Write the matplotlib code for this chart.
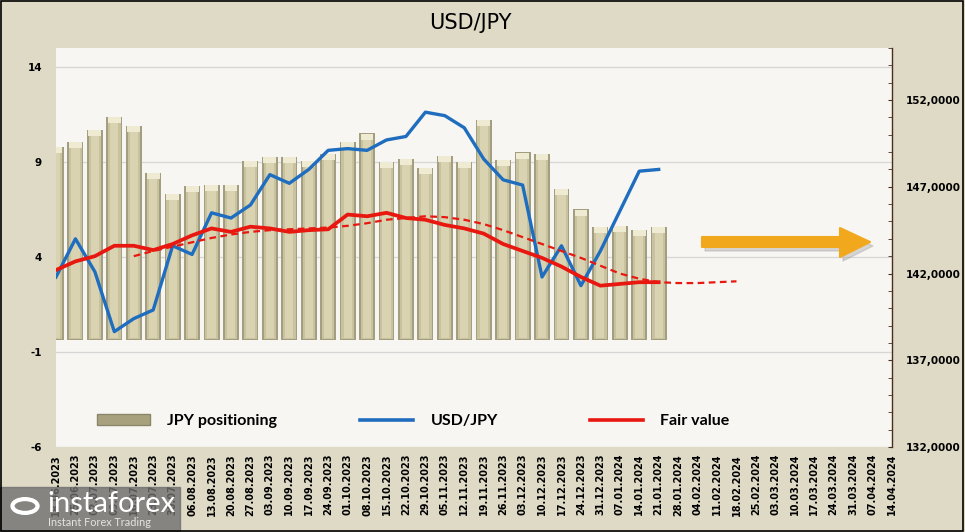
import numpy as np
import pandas as pd
import matplotlib
matplotlib.use('Agg')
from matplotlib import pyplot as plt
from matplotlib.patches import Polygon, Rectangle, Patch, Circle
from matplotlib.lines import Line2D

plt.rcParams['axes.unicode_minus'] = False

# weekly categories, 18.06.2023 .. 14.04.2024
dates = pd.date_range('2023-06-18', periods=44, freq='7D').strftime('%d.%m.%Y').tolist()

# JPY positioning (left axis)
positioning = [9.8, 10.05, 10.7, 11.35, 10.9, 8.4, 7.3, 7.75, 7.8, 7.8,
               9.05, 9.25, 9.25, 9.05, 9.4, 10.05, 10.5, 9.0, 9.15, 8.7,
               9.3, 9.0, 11.2, 9.1, 9.5, 9.4, 7.6, 6.5, 5.6, 5.65, 5.4, 5.6]

# USD/JPY (right axis)
usdjpy = [141.8, 144.0, 142.1, 138.65, 139.4, 139.9, 143.6, 143.1, 145.5, 145.2,
          145.95, 147.7, 147.2, 148.0, 149.1, 149.2, 149.1, 149.7, 149.9, 151.3,
          151.1, 150.4, 148.6, 147.4, 147.1, 141.8, 143.6, 141.3, 143.3, 145.6,
          147.9, 148.0]

# fair value (right axis)
fair = [142.2, 142.7, 143.0, 143.6, 143.6, 143.35, 143.7, 144.2, 144.6, 144.4,
        144.7, 144.6, 144.4, 144.5, 144.55, 145.4, 145.3, 145.5, 145.2, 145.1,
        144.8, 144.6, 144.3, 143.7, 143.3, 142.9, 142.4, 141.8, 141.3, 141.4,
        141.5, 141.5]

# fair value trend (dashed), starts at week index 4
trend_start = 4
trend = [143.0, 143.3, 143.55, 143.8, 144.05, 144.25, 144.4, 144.5, 144.55, 144.6,
         144.65, 144.75, 144.9, 145.1, 145.2, 145.3, 145.25, 145.1, 144.85, 144.5,
         144.1, 143.7, 143.3, 142.9, 142.45, 142.0, 141.7, 141.5, 141.45, 141.45,
         141.5, 141.55]

W, H = 965, 532
BG = '#dedac6'
BLUE = '#1f6dbf'
RED = '#e8170f'

fig = plt.figure(figsize=(W / 100, H / 100), dpi=100, facecolor=BG)
ax = fig.add_axes([56 / W, (H - 447) / H, (892 - 56) / W, (447 - 48) / H])
ax.set_facecolor('#f7f6f2')
ax2 = ax.twinx()

x_all = np.arange(len(dates))
xb = np.arange(len(positioning))
pos = np.array(positioning)
base = -0.35

# bars with a rough bevel look
ax.bar(xb, pos - base, bottom=base, width=0.82, color='#a29e7f', zorder=2)
ax.bar(xb, pos - base - 0.1, bottom=base + 0.05, width=0.64, color='#c9c29e', zorder=3)
ax.bar(xb, pos - base - 0.3, bottom=base + 0.1, width=0.42, color='#d9d3b1', zorder=4)
ax.bar(xb, 0.32, bottom=pos - 0.32, width=0.66, color='#efebd2', zorder=5)

ax2.plot(xb, usdjpy, color=BLUE, lw=2.4, solid_joinstyle='round', zorder=3)
ax2.plot(xb, fair, color=RED, lw=2.7, solid_joinstyle='round', zorder=4)
ax2.plot(np.arange(trend_start, trend_start + len(trend)), trend,
         color=RED, lw=1.6, ls=(0, (3, 2)), zorder=4)

ax.set_xlim(0, len(dates) - 1)
ax.set_ylim(-6, 15)
ax2.set_ylim(132, 155)

ax.set_yticks([-6, -1, 4, 9, 14])
ax.set_axisbelow(True)
ax.grid(axis='y', color='#d6d6d6', lw=0.9, zorder=0)
ax.tick_params(axis='y', length=0, pad=10, labelsize=7.5)
for t in ax.get_yticklabels():
    t.set_fontweight('bold')

ax.set_xticks(x_all)
ax.set_xticklabels(dates, rotation=90, fontsize=7, fontweight='bold')
ax.tick_params(axis='x', length=0, pad=5)

ax2.set_yticks(np.arange(132, 153, 5))
ax2.set_yticks(np.arange(132, 156, 1), minor=True)
ax2.set_yticklabels([f'{v:.4f}'.replace('.', ',') for v in np.arange(132, 153, 5)],
                    fontsize=7.5, fontweight='bold')
ax2.tick_params(axis='y', which='both', direction='in', length=3,
                color='#4a2e20', pad=10)

for s in ax.spines.values():
    s.set_visible(False)
for k in ['top', 'left', 'bottom']:
    ax2.spines[k].set_visible(False)
ax2.spines['right'].set_color('#4a2e20')
ax2.spines['right'].set_linewidth(1)

leg_kw = dict(loc='center left', frameon=False,
              prop=dict(family='Lato', weight='bold', size=11.5),
              handlelength=3.3, handletextpad=1.1, borderpad=0, borderaxespad=0)
leg1 = ax2.legend([Patch(facecolor='#a7a27d', edgecolor='#8a866a'),
                   Line2D([], [], color=BLUE, lw=2.6)],
                  ['JPY positioning', 'USD/JPY'], ncol=2,
                  bbox_to_anchor=(0.049, 0.065), columnspacing=5.2, **leg_kw)
ax2.add_artist(leg1)
ax2.legend([Line2D([], [], color=RED, lw=2.6)], ['Fair value'],
           bbox_to_anchor=(0.639, 0.065), **leg_kw)

fig.text(470 / W, 1 - 23 / H, 'USD/JPY', ha='center', va='center',
         fontsize=15, family='DejaVu Sans')


def px(pts):
    return [(a / W, 1 - b / H) for a, b in pts]


arrow = [(702, 237), (840, 237), (840, 228), (870, 242), (840, 257), (840, 247), (702, 247)]
shadow = [(a + 3, b + 4) for a, b in arrow]
fig.patches.append(Polygon(px(shadow), closed=True, transform=fig.transFigure,
                           color='#9a9a9a', alpha=0.35, joinstyle='round', zorder=5))
fig.patches.append(Polygon(px(arrow), closed=True, transform=fig.transFigure,
                           facecolor='#f2a81d', edgecolor='#f2a81d', lw=1.5,
                           joinstyle='round', zorder=6))

# watermark
fig.patches.append(Rectangle((0, 0), 180 / W, (H - 487) / H, transform=fig.transFigure,
                             color='#6f6f6f', alpha=0.8, zorder=10))
fig.text(47 / W, 1 - 504 / H, 'instaforex', fontsize=21, family='Lato',
         color='white', va='center', zorder=11)
fig.text(48 / W, 1 - 523 / H, 'Instant Forex Trading', fontsize=7.8, family='Lato',
         color='#e4e4e4', va='center', zorder=11)
fig.patches.append(Circle((25 / W, 1 - 506 / H), 0.013, transform=fig.transFigure,
                          fill=False, ec='white', lw=3, zorder=11))

fig.patches.append(Rectangle((0.001, 0.002), 0.997, 0.996, transform=fig.transFigure,
                             fill=False, ec='black', lw=1.2, zorder=12))

fig.savefig('out.png', dpi=100, facecolor=fig.get_facecolor())
